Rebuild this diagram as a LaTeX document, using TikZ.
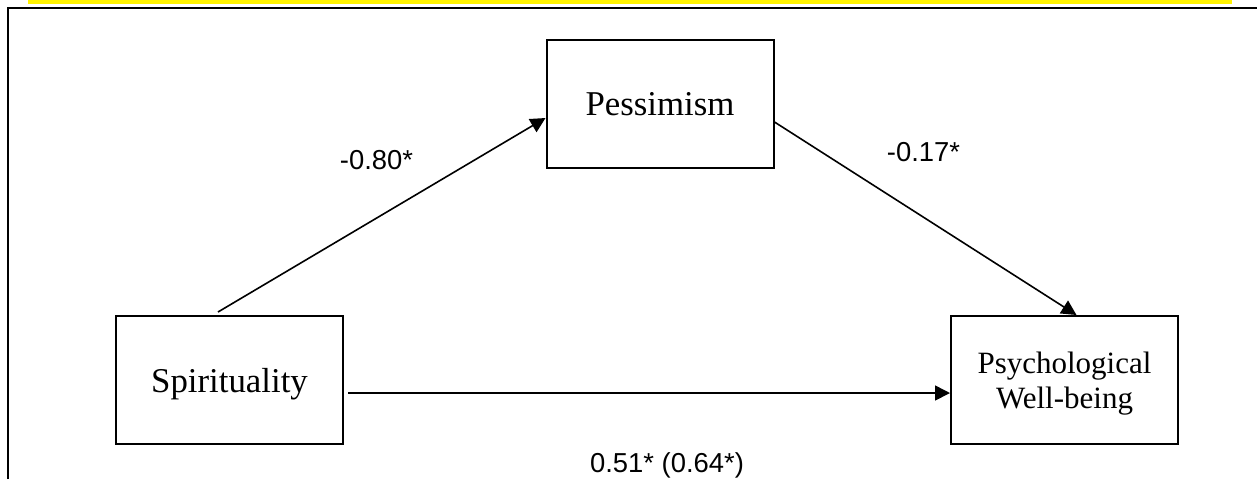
\documentclass[tikz,border=0pt]{standalone}
\usepackage{fontspec}
\setmainfont{Liberation Serif}
\newfontfamily\arialfont{Liberation Sans}
\usepackage{tikz}
\usetikzlibrary{arrows.meta,positioning,calc}

\begin{document}
\begin{tikzpicture}[x=0.5pt, y=-0.5pt,
  var/.style={draw, line width=1pt, fill=white, minimum width=113.5pt, minimum height=64pt, text depth=0pt, align=center, font=\fontsize{17.4}{20}\selectfont},
  coef/.style={inner sep=0pt, font=\arialfont\fontsize{13.7}{16}\selectfont},
  link/.style={-{Triangle[length=7.5pt, width=7.5pt]}, line width=0.8pt}]
  \useasboundingbox (0,0) rectangle (1257,479);
  \fill[yellow] (28,0) rectangle (1232,4);
  \draw[line width=1pt] (8,479) -- (8,8) -- (1257,8);

  \node[var] (pes) at (660,104) {Pessimism};
  \node[var] (spi) at (229.5,380) {Spirituality};
  \node[var, font=\fontsize{15.5}{17.5}\selectfont] (pwb) at (1064.5,380) {Psychological\\Well-being};

  \draw[link] ($(spi.north)+(-11.5,-3)$) -- ($(pes.west)+(0,14)$);
  \draw[link] ($(pes.east)+(0,18)$) -- ($(pwb.north)+(12,0)$);
  \draw[link] ($(spi.east)+(4,13)$) -- ($(pwb.west)+(0,13)$);

  \node[coef] (cpes) at (376.5,160) {-0.80*};
  \node[coef] (cpwb) at (923.5,152.5) {-0.17*};
  \node[coef] (cdir) at (667,465) {0.51* (0.64*)};
\end{tikzpicture}
\end{document}
